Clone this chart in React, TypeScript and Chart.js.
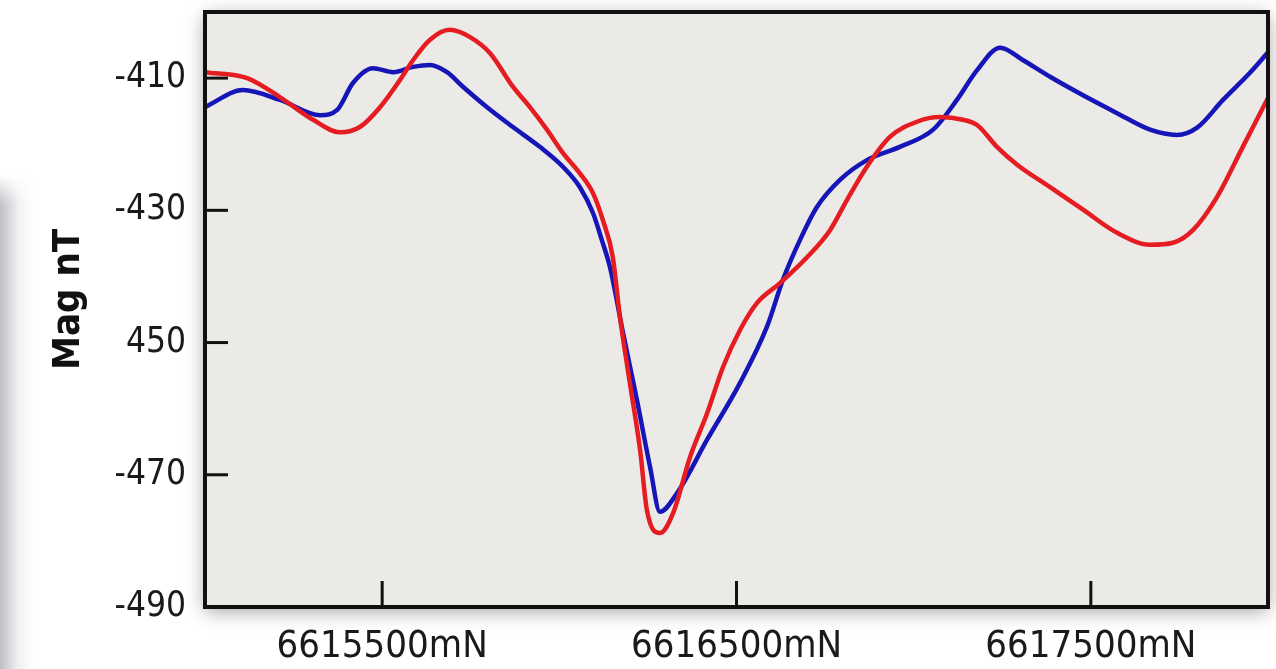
import React, { useEffect, useRef } from "react";
import { Chart, registerables } from "chart.js";

Chart.register(...registerables);

// Northing (m) and magnetic field (nT) for the two profiles
const redNorthing = [
  6615000, 6615119, 6615212, 6615305, 6615381, 6615437, 6615494, 6615550, 6615587, 6615635,
  6615691, 6615748, 6615804, 6615869, 6615917, 6615965, 6616010, 6616058, 6616095, 6616123,
  6616151, 6616171, 6616199, 6616228, 6616247, 6616284, 6616321, 6616369, 6616417, 6616462,
  6616510, 6616558, 6616623, 6616699, 6616764, 6616812, 6616868, 6616933, 6617009, 6617074,
  6617139, 6617179, 6617235, 6617292, 6617385, 6617478, 6617574, 6617667, 6617732, 6617788,
  6617856, 6617929, 6618000,
];
const redMag = [
  -409.1, -410.0, -412.9, -416.3, -418.2, -417.4, -414.4, -410.3, -407.3, -404.2,
  -402.7, -403.8, -406.2, -411.3, -414.4, -417.8, -421.3, -424.4, -427.4, -431.5,
  -437.1, -446.1, -456.1, -466.3, -475.3, -478.8, -475.8, -467.3, -460.7, -453.7,
  -448.1, -444.0, -441.0, -437.1, -433.0, -428.4, -423.4, -418.9, -416.6, -415.9,
  -416.3, -417.1, -420.4, -423.1, -426.5, -429.9, -433.4, -435.2, -434.9, -433.0,
  -428.0, -420.4, -413.0,
];

const blueNorthing = [
  6615000, 6615107, 6615212, 6615325, 6615373, 6615418, 6615474, 6615531, 6615587, 6615635,
  6615683, 6615728, 6615796, 6615869, 6615945, 6616010, 6616058, 6616095, 6616120, 6616143,
  6616180, 6616219, 6616256, 6616284, 6616332, 6616417, 6616510, 6616586, 6616631, 6616679,
  6616727, 6616792, 6616868, 6616961, 6617055, 6617122, 6617179, 6617244, 6617309, 6617385,
  6617478, 6617574, 6617667, 6617743, 6617800, 6617873, 6617949, 6618000,
];
const blueMag = [
  -414.4, -411.8, -413.3, -415.6, -414.8, -410.7, -408.5, -409.1, -408.3, -408.0,
  -409.1, -411.3, -414.4, -417.4, -420.4, -423.4, -426.5, -430.4, -434.5, -438.6,
  -448.6, -458.7, -468.8, -475.6, -472.8, -464.7, -456.1, -447.6, -440.5, -434.5,
  -429.5, -425.4, -422.4, -420.4, -417.8, -413.3, -408.8, -405.4, -407.3, -409.8,
  -412.6, -415.3, -417.8, -418.6, -417.5, -413.3, -409.2, -406.1,
];

const yTickValues = [-490, -470, -450, -430, -410];
const yTickLabels = ["-490", "-470", "450", "-430", "-410"];
const xTickValues = [6615500, 6616500, 6617500];
const xTickLabels = ["6615500mN", "6616500mN", "6617500mN"];
const yTitle = "Mag nT";

const FONT = "'Liberation Sans Narrow', 'Arial Narrow', 'DejaVu Sans Condensed', sans-serif";

const framePlugin = {
  id: "frame",
  beforeDraw(chart: any) {
    const { ctx, chartArea } = chart;
    const { left, top, right, bottom } = chartArea;
    ctx.save();
    ctx.shadowColor = "rgba(0,0,0,0.38)";
    ctx.shadowBlur = 18;
    ctx.shadowOffsetX = 0;
    ctx.shadowOffsetY = 4;
    ctx.fillStyle = "#ECEAE6";
    ctx.fillRect(left, top, right - left, bottom - top);
    ctx.restore();
  },
  afterDatasetsDraw(chart: any) {
    const { ctx, chartArea, scales } = chart;
    const { left, top, right, bottom } = chartArea;
    ctx.save();
    ctx.strokeStyle = "#111";
    ctx.lineWidth = 3;
    ctx.lineCap = "butt";
    for (const v of yTickValues) {
      const y = scales.y.getPixelForValue(v);
      ctx.beginPath();
      ctx.moveTo(left, y);
      ctx.lineTo(left + 23, y);
      ctx.stroke();
    }
    for (const v of xTickValues) {
      const x = scales.x.getPixelForValue(v);
      ctx.beginPath();
      ctx.moveTo(x, bottom);
      ctx.lineTo(x, bottom - 26);
      ctx.stroke();
    }
    ctx.lineWidth = 4;
    ctx.strokeRect(left, top, right - left, bottom - top);
    ctx.restore();
  },
  afterDraw(chart: any) {
    const { ctx, scales } = chart;
    const yMid = (scales.y.top + scales.y.bottom) / 2 - 10;
    ctx.save();
    ctx.translate(79, yMid);
    ctx.rotate(-Math.PI / 2);
    ctx.fillStyle = "#111";
    ctx.font = "bold 38px " + FONT;
    ctx.textAlign = "center";
    ctx.textBaseline = "alphabetic";
    ctx.fillText(yTitle, 0, 0);
    ctx.restore();
  },
};

export default function App() {
  const canvasRef = useRef<HTMLCanvasElement | null>(null);

  useEffect(() => {
    document.body.style.margin = "0";
    const canvas = canvasRef.current;
    if (!canvas) return;
    const chart = new Chart(canvas, {
      type: "line",
      data: {
        datasets: [
          {
            label: "Red",
            data: redNorthing.map((x, i) => ({ x, y: redMag[i] })),
            borderColor: "#E51C21",
            borderWidth: 4.5,
            pointRadius: 0,
            fill: false,
            cubicInterpolationMode: "monotone",
          },
          {
            label: "Blue",
            data: blueNorthing.map((x, i) => ({ x, y: blueMag[i] })),
            borderColor: "#1515B8",
            borderWidth: 4.5,
            pointRadius: 0,
            fill: false,
            cubicInterpolationMode: "monotone",
          },
        ],
      },
      options: {
        responsive: false,
        animation: false,
        layout: { padding: { top: 12, right: 8, left: 0, bottom: 0 } },
        plugins: {
          legend: { display: false },
          tooltip: { enabled: false },
        },
        scales: {
          x: {
            type: "linear",
            min: 6615000,
            max: 6618000,
            grid: { display: false, drawTicks: false },
            border: { display: false },
            afterBuildTicks: (scale: any) => {
              scale.ticks = xTickValues.map((v) => ({ value: v }));
            },
            afterFit: (scale: any) => {
              scale.height = 62;
              scale.paddingLeft = 0;
              scale.paddingRight = 0;
            },
            ticks: {
              autoSkip: false,
              maxRotation: 0,
              padding: 17,
              color: "#1a1a1a",
              font: { family: FONT, size: 38 },
              callback: (v: any) => {
                const i = xTickValues.indexOf(Number(v));
                return i >= 0 ? xTickLabels[i] : "";
              },
            },
          },
          y: {
            type: "linear",
            min: -490,
            max: -400,
            grid: { display: false, drawTicks: false },
            border: { display: false },
            afterBuildTicks: (scale: any) => {
              scale.ticks = yTickValues.map((v) => ({ value: v }));
            },
            afterFit: (scale: any) => {
              scale.width = 205;
              scale.paddingTop = 0;
              scale.paddingBottom = 0;
            },
            ticks: {
              autoSkip: false,
              padding: 19,
              color: "#1a1a1a",
              font: { family: FONT, size: 35 },
              callback: (v: any) => {
                const i = yTickValues.indexOf(Number(v));
                return i >= 0 ? yTickLabels[i] : "";
              },
            },
          },
        },
      },
      plugins: [framePlugin],
    });
    return () => chart.destroy();
  }, []);

  return (
    <div style={{ position: "fixed", left: 0, top: 0, width: 1276, height: 669, background: "#fff", overflow: "hidden" }}>
      <div
        style={{
          position: "absolute",
          left: 0,
          top: 175,
          width: 34,
          height: 494,
          background: "linear-gradient(to right, rgba(170,170,178,0.75), rgba(215,215,220,0.35) 55%, rgba(255,255,255,0))",
          WebkitMaskImage: "linear-gradient(to bottom, rgba(0,0,0,0), rgba(0,0,0,1) 30px)",
          maskImage: "linear-gradient(to bottom, rgba(0,0,0,0), rgba(0,0,0,1) 30px)",
        }}
      />
      <canvas ref={canvasRef} width={1276} height={669} style={{ position: "absolute", left: 0, top: 0, display: "block" }} />
    </div>
  );
}
